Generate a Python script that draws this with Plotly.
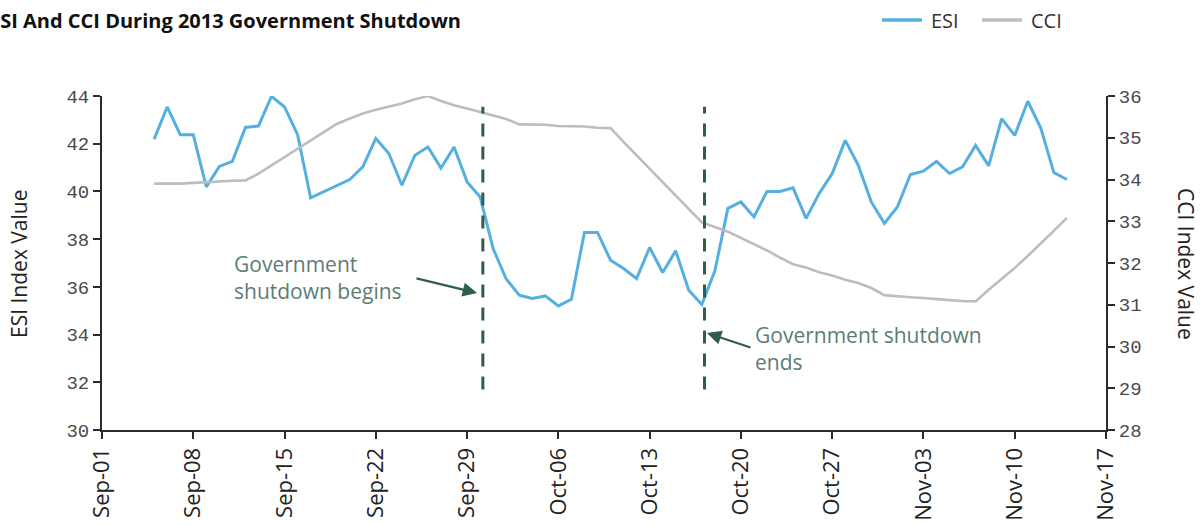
import pandas as pd
import plotly.graph_objects as go

# Daily index readings, 5 Sep 2013 - 14 Nov 2013
start_date = "2013-09-05"
esi_values = [
    42.19, 43.54, 42.38, 42.38, 40.19, 41.05, 41.26, 42.68, 42.74, 43.99,
    43.54, 42.38, 39.73, 39.98, 40.23, 40.50, 41.03, 42.22, 41.59, 40.26,
    41.52, 41.86, 40.98, 41.86, 40.40, 39.77, 37.60, 36.33, 35.65, 35.51,
    35.62, 35.20, 35.48, 38.28, 38.28, 37.12, 36.77, 36.35, 37.65, 36.60,
    37.51, 35.86, 35.26, 36.66, 39.29, 39.56, 38.93, 40.00, 40.00, 40.15,
    38.87, 39.91, 40.75, 42.14, 41.10, 39.56, 38.66, 39.35, 40.71, 40.85,
    41.26, 40.75, 41.03, 41.93, 41.07, 43.05, 42.35, 43.78, 42.66, 40.79,
    40.50,
]
cci_values = [
    33.90, 33.90, 33.90, 33.92, 33.94, 33.95, 33.97, 33.98, 34.14, 34.34,
    34.54, 34.74, 34.94, 35.15, 35.33, 35.46, 35.58, 35.67, 35.74, 35.82,
    35.92, 36.00, 35.88, 35.78, 35.70, 35.62, 35.54, 35.45, 35.32, 35.32,
    35.31, 35.28, 35.28, 35.27, 35.24, 35.23, 34.90, 34.58, 34.26, 33.93,
    33.61, 33.29, 32.97, 32.86, 32.75, 32.60, 32.45, 32.30, 32.13, 31.97,
    31.89, 31.78, 31.70, 31.60, 31.52, 31.40, 31.23, 31.20, 31.18, 31.16,
    31.13, 31.11, 31.09, 31.08, 31.36, 31.62, 31.88, 32.17, 32.46, 32.77,
    33.08,
]
dates = pd.date_range(start_date, periods=len(esi_values), freq="D")

series_names = ["ESI", "CCI"]
shutdown_begins = "2013-09-30 05:00"
shutdown_ends = "2013-10-17 05:00"

ESI_BLUE = "#55b0df"
CCI_GRAY = "#bdbdbd"
NOTE_GREEN = "#2f5d50"
NOTE_TEXT = "#5d7d74"
AXIS_COLOR = "#2a2a2a"

L, R, T, B = 102, 96, 96, 95
W, H = 1202, 525
PW, PH = W - L - R, H - T - B


def px_x(px):
    return (px - L) / PW


def px_y(py):
    return (H - B - py) / PH


fig = go.Figure()
fig.add_trace(go.Scatter(
    x=dates, y=esi_values, name=series_names[0], mode="lines",
    line=dict(color=ESI_BLUE, width=3), yaxis="y", showlegend=False,
))
fig.add_trace(go.Scatter(
    x=dates, y=cci_values, name=series_names[1], mode="lines",
    line=dict(color=CCI_GRAY, width=2.6), yaxis="y2", showlegend=False,
))

tick_font = dict(family="Liberation Mono", size=19, color="#4a4a4a")

fig.update_layout(
    width=W, height=H,
    margin=dict(l=L, r=R, t=T, b=B, pad=0, autoexpand=False),
    paper_bgcolor="white", plot_bgcolor="white",
    showlegend=False,
    xaxis=dict(
        type="date", range=["2013-09-01", "2013-11-17"],
        tick0="2013-09-01", dtick=7 * 86400000, tickformat="%b-%d",
        tickangle=-90, ticks="outside", ticklen=7, tickwidth=2, tickcolor=AXIS_COLOR,
        showline=True, linecolor=AXIS_COLOR, linewidth=2,
        showgrid=False, zeroline=False, automargin=False,
        tickfont=dict(family="Open Sans", size=22, color="#222222"),
    ),
    yaxis=dict(
        range=[30, 44], dtick=2, ticks="outside", ticklen=7, tickwidth=2,
        tickcolor=AXIS_COLOR, showline=True, linecolor=AXIS_COLOR, linewidth=2,
        showgrid=False, zeroline=False, tickfont=tick_font, automargin=False,
    ),
    yaxis2=dict(
        range=[28, 36], dtick=1, overlaying="y", side="right",
        ticks="outside", ticklen=7, tickwidth=2, tickcolor=AXIS_COLOR,
        showline=True, linecolor=AXIS_COLOR, linewidth=2,
        showgrid=False, zeroline=False, tickfont=tick_font, automargin=False,
    ),
)

# Shutdown start / end markers
for when in (shutdown_begins, shutdown_ends):
    fig.add_shape(
        type="line", xref="x", yref="y", x0=when, x1=when, y0=31.7, y1=43.55,
        line=dict(color=NOTE_GREEN, width=3, dash="13px,10px"), layer="above",
    )

# Legend drawn as line swatches with labels, top right
legend_items = [(series_names[0], ESI_BLUE, 882), (series_names[1], CCI_GRAY, 982)]
annotations = []
for name, color, left in legend_items:
    fig.add_shape(
        type="line", xref="paper", yref="paper",
        x0=px_x(left), x1=px_x(left + 40), y0=px_y(20), y1=px_y(20),
        line=dict(color=color, width=3.5),
    )
    annotations.append(dict(
        text=name, xref="paper", yref="paper", x=px_x(left + 47), y=px_y(20),
        xanchor="left", yanchor="middle", showarrow=False,
        font=dict(family="Open Sans", size=20, color="#333333"),
    ))

annotations += [
    dict(text="<b>ESI And CCI During 2013 Government Shutdown</b>",
         xref="paper", yref="paper", x=px_x(-13), y=px_y(21),
         xanchor="left", yanchor="middle", showarrow=False,
         font=dict(family="Open Sans", size=20, color="#111111")),
    dict(text="ESI Index Value", xref="paper", yref="paper",
         x=px_x(19), y=px_y(264), xanchor="center", yanchor="middle",
         textangle=-90, showarrow=False,
         font=dict(family="Open Sans", size=21, color="#222222")),
    dict(text="CCI Index Value", xref="paper", yref="paper",
         x=px_x(1186), y=px_y(264), xanchor="center", yanchor="middle",
         textangle=90, showarrow=False,
         font=dict(family="Open Sans", size=21, color="#222222")),
    dict(text="Government<br>shutdown begins", xref="paper", yref="paper",
         x=px_x(232), y=px_y(277), xanchor="left", yanchor="middle",
         align="left", showarrow=False,
         font=dict(family="Open Sans", size=21, color=NOTE_TEXT)),
    dict(text="Government shutdown<br>ends", xref="paper", yref="paper",
         x=px_x(753), y=px_y(348), xanchor="left", yanchor="middle",
         align="left", showarrow=False,
         font=dict(family="Open Sans", size=21, color=NOTE_TEXT)),
    # arrows pointing at the dashed markers
    dict(text="", xref="paper", yref="paper", x=px_x(477), y=px_y(293),
         ax=-62, ay=-15, showarrow=True, arrowhead=2, arrowsize=1.3,
         arrowwidth=2.2, arrowcolor=NOTE_GREEN),
    dict(text="", xref="paper", yref="paper", x=px_x(707), y=px_y(333),
         ax=45, ay=15, showarrow=True, arrowhead=2, arrowsize=1.3,
         arrowwidth=2.2, arrowcolor=NOTE_GREEN),
]
fig.update_layout(annotations=annotations)

fig.write_html("out.html")
